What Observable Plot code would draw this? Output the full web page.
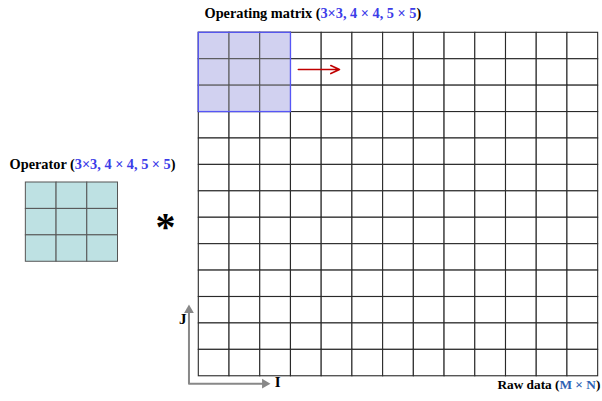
<!DOCTYPE html>
<html><head><meta charset="utf-8">
<script src="https://cdn.jsdelivr.net/npm/d3@7"></script>
<script src="https://cdn.jsdelivr.net/npm/@observablehq/plot@0.6"></script>
<style>body{margin:0;background:#fff}</style>
</head><body><div id="chart"></div>
<script>
// Raw data grid (M × N) — column and row indices
const rawColumns = [0,1,2,3,4,5,6,7,8,9,10,11,12];
const rawRows = [0,1,2,3,4,5,6,7,8,9,10,11,12];
// Operator / operating-matrix size (3 × 3)
const kernelColumns = [0,1,2];
const kernelRows = [0,1,2];
// Labels
const labelNames = ["Operating matrix", "Operator", "Raw data"];
const labelSizes = ["3×3, 4 × 4, 5 × 5", "3×3, 4 × 4, 5 × 5", "M × N"];
const labelColors = ["#3c3ce8", "#3c3ce8", "#2f62b4"];
const axisNames = ["I", "J"];

// layout (grid units: 1 column = 1 cell width, 1 row = 1 cell height)
const W = 602, H = 401;
const opCol = -5.63, opRow = 5.666;

const rawCells = rawRows.flatMap(r => rawColumns.map(c => ({c, r})));
const windowCells = kernelRows.flatMap(r => kernelColumns.map(c => ({c, r})));
const opCells = kernelRows.flatMap(r => kernelColumns.map(c => ({c: c + opCol, r: r + opRow})));
const k = kernelColumns.length;

const full = i => `${labelNames[i]} (${labelSizes[i]})`;
const startLabels = [
  {x: 0.186, y: -0.73, t: full(0)},
  {x: -6.16, y: 4.985, t: full(1)}
];
const endLabels = [
  {x: 13.07, y: 13.31, t: full(2)}
];
const axisText = [
  {x: 2.57, y: 13.24, t: axisNames[0]},
  {x: -0.52, y: 10.83, t: axisNames[1]}
];
const axisX = -0.32, axisY = 13.28;
const axisPath = [{x: axisX, y: 10.55}, {x: axisX, y: axisY}, {x: 2.1, y: axisY}];
const axisHeads = [{x: axisX, y: 10.5, rot: 0}, {x: 2.15, y: axisY, rot: 90}];

const serif = "Liberation Serif, Times New Roman, serif";

const svg = Plot.plot({
  width: W, height: H,
  margin: 0,
  x: {domain: [-6.455, 13.141], range: [0, W], axis: null},
  y: {domain: [-1.2226, 13.955], range: [0, H], axis: null},
  marks: [
    Plot.rect(rawCells, {x1: "c", x2: d => d.c + 1, y1: "r", y2: d => d.r + 1, fill: "white", stroke: "#2a2a2a", strokeWidth: 1.1}),
    Plot.rect(windowCells, {x1: "c", x2: d => d.c + 1, y1: "r", y2: d => d.r + 1, fill: "#d1d1f0", stroke: "#555", strokeWidth: 1}),
    Plot.rect([{}], {x1: 0, x2: k, y1: 0, y2: k, fill: "none", stroke: "#5656f6", strokeWidth: 1.3}),
    Plot.rect(opCells, {x1: "c", x2: d => d.c + 1, y1: "r", y2: d => d.r + 1, fill: "#bee1e3", stroke: "#555", strokeWidth: 1}),
    Plot.arrow([{}], {x1: 3.24, x2: 4.58, y1: 1.39, y2: 1.39, stroke: "#c00000", strokeWidth: 1.6, headLength: 9, headAngle: 50}),
    Plot.line(axisPath, {x: "x", y: "y", stroke: "#888", strokeWidth: 2}),
    Plot.dot(axisHeads, {x: "x", y: "y", symbol: "triangle", rotate: "rot", r: 3.6, fill: "#888", stroke: "none"}),
    Plot.text(axisText, {x: "x", y: "y", text: "t", fontFamily: serif, fontWeight: "bold", fontSize: 15, fill: "black"}),
    Plot.text([{}], {x: -1.08, y: 7.17, text: () => "*", fontFamily: serif, fontWeight: "bold", fontSize: 40, dy: 5, fill: "black"}),
    Plot.text(startLabels, {x: "x", y: "y", text: "t", textAnchor: "start", fontFamily: serif, fontWeight: "bold", fontSize: 14.3, fill: "black"}),
    Plot.text(endLabels, {x: "x", y: "y", text: "t", textAnchor: "end", fontFamily: serif, fontWeight: "bold", fontSize: 13.3, fill: "black"})
  ]
});

// colour the size part of each label
d3.select(svg).selectAll("text").each(function() {
  const s = this.textContent;
  const i = labelNames.findIndex((n, j) => s === full(j));
  if (i < 0) return;
  const el = d3.select(this);
  el.text(null);
  el.append("tspan").text(labelNames[i] + " (");
  el.append("tspan").attr("fill", labelColors[i]).text(labelSizes[i]);
  el.append("tspan").text(")");
});

document.getElementById("chart").append(svg);
</script>
</body></html>
